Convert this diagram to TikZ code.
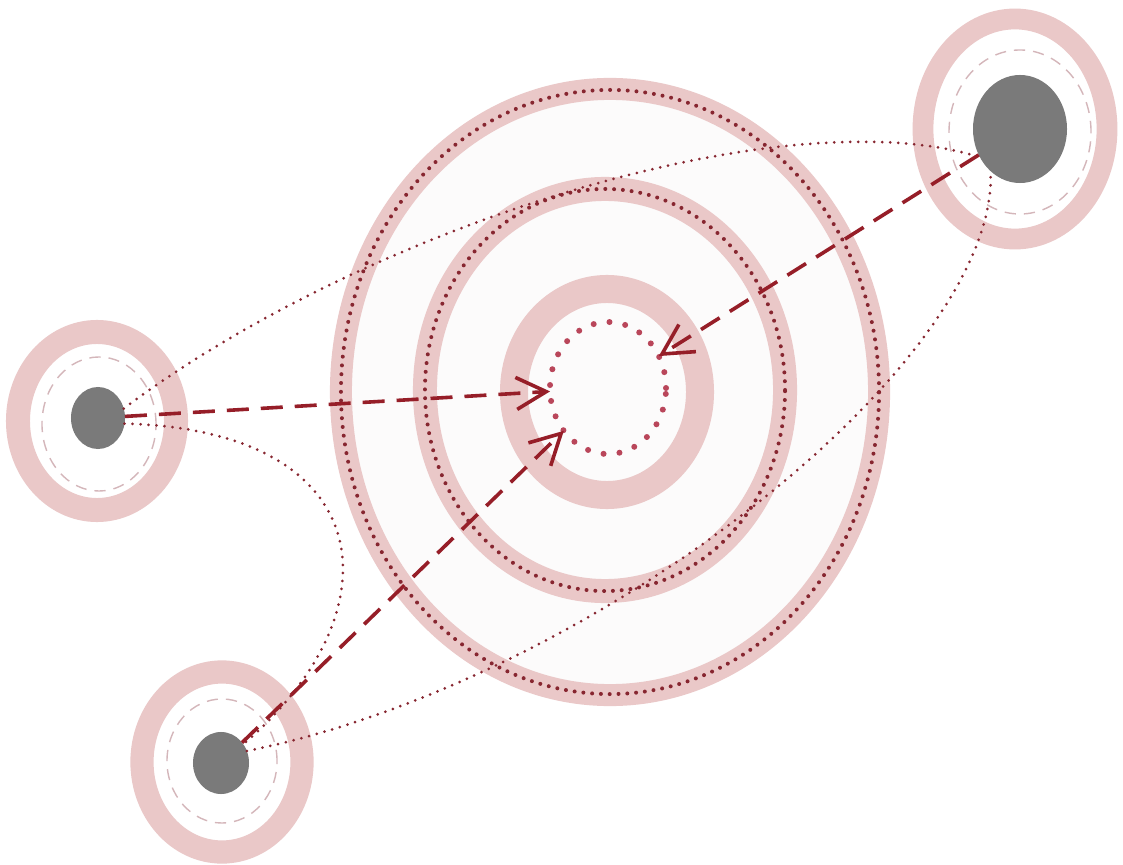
\documentclass[tikz,border=0pt]{standalone}
\usepackage{tikz}
\usetikzlibrary{
  arrows.meta,
  positioning,
  shapes.geometric
}
\definecolor{ringpink}{RGB}{234,200,200}
\definecolor{softfill}{RGB}{252,251,251}
\definecolor{dotred}{RGB}{135,38,48}
\definecolor{arrowred}{RGB}{150,30,40}
\definecolor{coredot}{RGB}{185,70,90}
\definecolor{coregray}{RGB}{122,122,122}
\definecolor{dashpink}{RGB}{212,182,186}

\begin{document}
\begin{tikzpicture}[
  x=0.025cm, y=-0.025cm,
  oval/.style={ellipse, inner sep=0pt, outer sep=0pt},
  band/.style={oval, draw=ringpink, fill=softfill},
  dotring/.style={
    oval,
    draw=dotred,
    line width=0.1cm,
    dash pattern=on 0pt off 0.22cm,
    line cap=round
  },
  halo/.style={oval, draw=ringpink, fill=white},
  orbit/.style={oval, draw=dashpink, line width=0.035cm, dash pattern=on 0.28cm off 0.2cm},
  planet/.style={oval, fill=coregray},
  flow/.style={
    draw=arrowred,
    line width=0.09cm,
    dash pattern=on 0.55cm off 0.3cm,
    -{Straight Barb[length=0.75cm, width=0.8cm]}
  },
  link/.style={draw=dotred, line width=0.075cm, dash pattern=on 0pt off 0.2cm, line cap=round}
]

\fill[white] (0,0) rectangle (1123,865);
\useasboundingbox (0,0) rectangle (1123,865);

\node[band, line width=0.55cm, minimum width=13.45cm, minimum height=15.15cm] (outerring) at (610,392) {};
\node[dotring, minimum width=13.45cm, minimum height=15.1cm] (outerdots) at (610,392) {};
\node[band, line width=0.6cm, minimum width=9cm, minimum height=10.05cm] (midring) at (605,390) {};
\node[dotring, minimum width=9cm, minimum height=10.05cm] (middots) at (605,390) {};
\node[band, line width=0.7cm, minimum width=4.65cm, minimum height=5.15cm] (innerring) at (607,392) {};
\node[oval, draw=coredot, line width=0.15cm, dash pattern=on 0pt off 0.4cm, line cap=round,
  minimum width=2.9cm, minimum height=3.3cm] (target) at (608,388) {};

\node[halo, line width=0.52cm, minimum width=4.6cm, minimum height=5.5cm] (righthalo) at (1015,129) {};
\node[orbit, minimum width=3.55cm, minimum height=4.1cm] (rightorbit) at (1020,132) {};
\node[planet, minimum width=2.35cm, minimum height=2.7cm] (rightcore) at (1020,129) {};

\node[halo, line width=0.6cm, minimum width=3.95cm, minimum height=4.45cm] (lefthalo) at (97,421) {};
\node[orbit, minimum width=2.85cm, minimum height=3.35cm] (leftorbit) at (99,424) {};
\node[planet, minimum width=1.35cm, minimum height=1.55cm] (leftcore) at (98,418) {};

\node[halo, line width=0.58cm, minimum width=4cm, minimum height=4.5cm] (lowhalo) at (222,762) {};
\node[orbit, minimum width=2.75cm, minimum height=3.1cm] (loworbit) at (222,761) {};
\node[planet, minimum width=1.4cm, minimum height=1.55cm] (lowcore) at (221,763) {};

\draw[link] (leftcore.20) .. controls (360,230) and (780,95) .. (rightcore.215);
\draw[link] (leftcore.-12) .. controls (380,430) and (400,610) .. (lowcore.40);
\draw[link] (lowcore.25) .. controls (600,680) and (1000,360) .. (rightcore.235);

\draw[flow] (leftcore) -- (target);
\draw[flow] (rightcore) -- (target);
\draw[flow] (lowcore) -- (target);

\end{tikzpicture}
\end{document}
